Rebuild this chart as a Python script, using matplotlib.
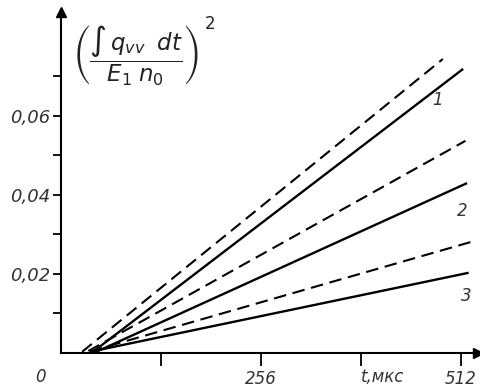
import matplotlib
matplotlib.use("Agg")
import matplotlib.pyplot as plt

# --- data ---
t_solid1 = [41, 515]
q_solid1 = [0.0003, 0.0719]
t_dash1 = [27, 489]
q_dash1 = [0.0003, 0.0744]
t_solid2 = [44, 520]
q_solid2 = [0.0002, 0.0430]
t_dash2 = [35, 518]
q_dash2 = [0.0005, 0.0537]
t_solid3 = [37, 522]
q_solid3 = [0.0003, 0.0203]
t_dash3 = [37, 525]
q_dash3 = [0.0004, 0.0281]

x_ticks = [128, 256, 384, 512]
x_tick_labels = ["", "256", "", "512"]
y_major = [0.02, 0.04, 0.06]
y_major_labels = ["0,02", "0,04", "0,06"]
y_minor = [0.01, 0.03, 0.05, 0.07]
curve_labels = ["1", "2", "3"]
curve_label_pos = [(482, 0.064), (514, 0.036), (519, 0.0145)]

plt.rcParams['font.family'] = ['DejaVu Sans']
plt.rcParams['mathtext.fontset'] = 'dejavusans'

W, H = 481, 392
fig = plt.figure(figsize=(W / 100, H / 100), dpi=100)
ax = fig.add_axes([61 / W, 39 / H, 417 / W, 341 / H])
ax.set_xlim(0, 534)
ax.set_ylim(0, 0.0863)

lw = 1.7
for t, q in [(t_solid1, q_solid1), (t_solid2, q_solid2), (t_solid3, q_solid3)]:
    ax.plot(t, q, color='black', lw=lw, solid_capstyle='butt')
for t, q in [(t_dash1, q_dash1), (t_dash2, q_dash2), (t_dash3, q_dash3)]:
    ax.plot(t, q, color='black', lw=1.5, dashes=(6, 3.2))

for lab, (xx, yy) in zip(curve_labels, curve_label_pos):
    ax.text(xx, yy, lab, fontsize=12, style='italic', color='#333333',
            ha='center', va='center')

for s in ['top', 'right']:
    ax.spines[s].set_visible(False)
for s in ['left', 'bottom']:
    ax.spines[s].set_linewidth(1.5)
ax.plot(1, 0, ">k", transform=ax.transAxes, clip_on=False, markersize=7)
ax.plot(0, 1, "^k", transform=ax.transAxes, clip_on=False, markersize=7)

ax.set_xticks(x_ticks)
ax.set_xticklabels(x_tick_labels, fontsize=12, style='italic', color='#333333')
ax.set_yticks(y_major)
ax.set_yticklabels(y_major_labels, fontsize=13, style='italic', color='#333333')
ax.set_yticks(y_minor, minor=True)
ax.tick_params(axis='x', direction='out', length=9, width=1.3, pad=3)
ax.tick_params(axis='y', which='both', direction='out', length=6, width=1.3, pad=2)

fig.text(40 / W, 1 - 377 / H, "0", fontsize=12, style='italic', color='#333333',
         ha='center', va='center')
fig.text(383 / W, 1 - 377 / H, "t,мкс", fontsize=12, style='italic', color='#333333',
         ha='center', va='center')

fig.text(72 / W, 1 - 56 / H,
         r'$\left(\dfrac{\int\, q_{vv}\;\;dt}{E_1\;n_0}\right)$',
         fontsize=16.5, color='#222222', ha='left', va='center')
fig.text(210 / W, 1 - 24 / H, "2", fontsize=12, color='#222222',
         ha='center', va='center')

fig.savefig("out.png", dpi=100)
